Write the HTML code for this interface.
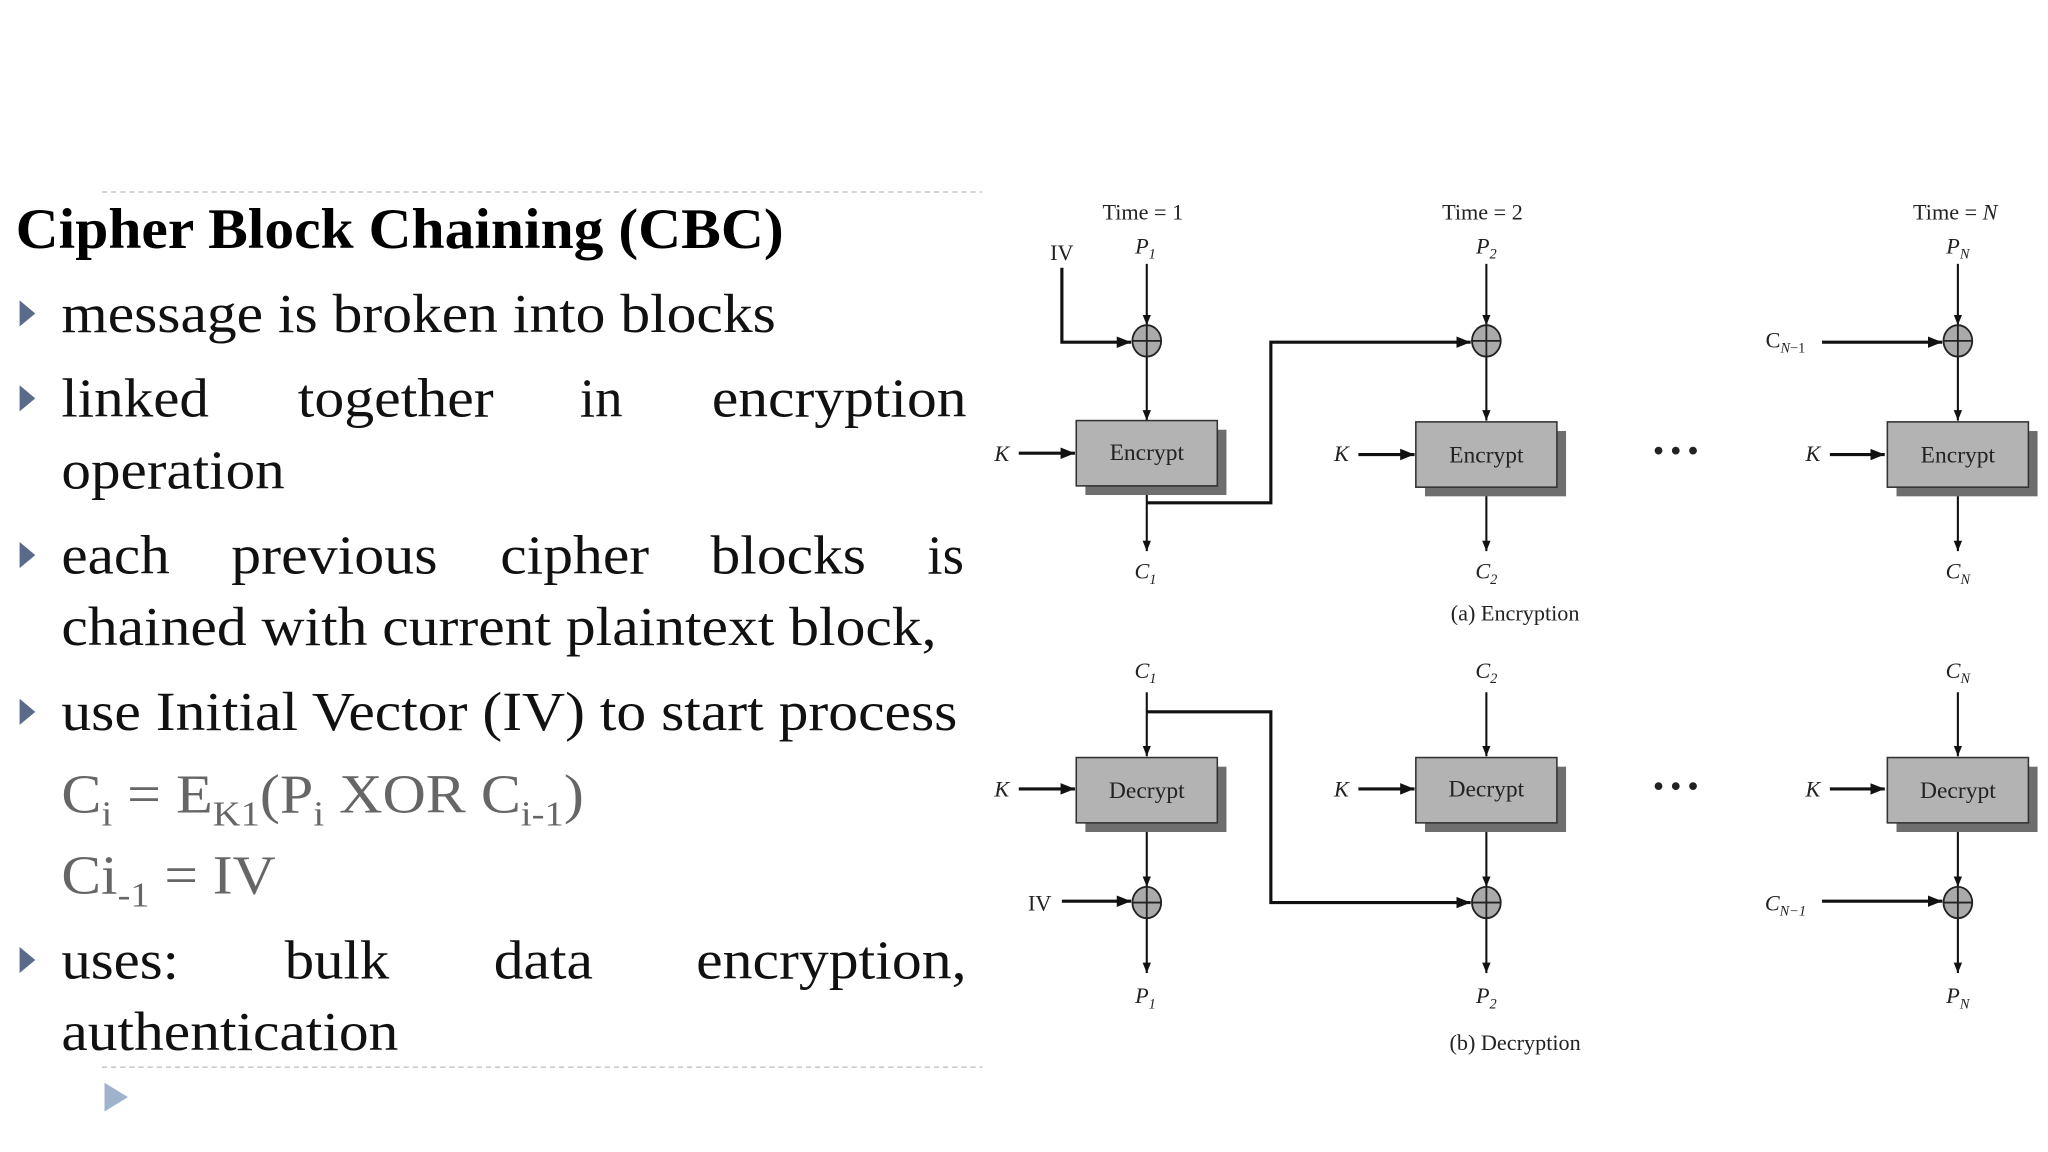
<!DOCTYPE html>
<html><head><meta charset="utf-8"><style>
html,body{margin:0;padding:0;background:#fff;width:2048px;height:1152px;overflow:hidden}
svg{display:block}
</style></head><body>
<svg width="2048" height="1152" viewBox="0 0 1568 882" xmlns="http://www.w3.org/2000/svg" font-family="Liberation Serif, serif">
<defs>
<marker id="a" viewBox="0 0 10 10" refX="10" refY="5" markerWidth="8" markerHeight="8" orient="auto" markerUnits="userSpaceOnUse"><path d="M0,1 L10,5 L0,9 z" fill="#111"/></marker>
<marker id="b" viewBox="0 0 10 10" refX="10" refY="5" markerWidth="11" markerHeight="11" orient="auto" markerUnits="userSpaceOnUse"><path d="M0,1 L10,5 L0,9 z" fill="#111"/></marker>
</defs>
<line x1="78" y1="147" x2="752" y2="147" stroke="#bbb" stroke-dasharray="4,3"/>
<line x1="78" y1="817" x2="752" y2="817" stroke="#bbb" stroke-dasharray="4,3"/>
<path d="M80,829 L98,840 L80,851 z" fill="#9fb3cc"/>
<text x="12" y="190" font-size="44" font-weight="bold" textLength="588" lengthAdjust="spacingAndGlyphs">Cipher Block Chaining (CBC)</text>
<g fill="#5a6a8a">
<path d="M15,230 L27,240 L15,250 z"/><path d="M15,295 L27,305 L15,315 z"/><path d="M15,415 L27,425 L15,435 z"/><path d="M15,535 L27,545 L15,555 z"/><path d="M15,725 L27,735 L15,745 z"/>
</g>
<g font-size="42" fill="#111">
<text x="47" y="254" textLength="547" lengthAdjust="spacingAndGlyphs">message is broken into blocks</text>
<text x="47" y="319" textLength="113" lengthAdjust="spacingAndGlyphs">linked</text><text x="228" y="319" textLength="150" lengthAdjust="spacingAndGlyphs">together</text><text x="444" y="319">in</text><text x="545" y="319" textLength="195" lengthAdjust="spacingAndGlyphs">encryption</text>
<text x="47" y="374" textLength="171" lengthAdjust="spacingAndGlyphs">operation</text>
<text x="47" y="439" textLength="83" lengthAdjust="spacingAndGlyphs">each</text><text x="177" y="439" textLength="158" lengthAdjust="spacingAndGlyphs">previous</text><text x="383" y="439" textLength="114" lengthAdjust="spacingAndGlyphs">cipher</text><text x="544" y="439" textLength="119" lengthAdjust="spacingAndGlyphs">blocks</text><text x="710" y="439">is</text>
<text x="47" y="494" textLength="670" lengthAdjust="spacingAndGlyphs">chained with current plaintext block,</text>
<text x="47" y="559" textLength="686" lengthAdjust="spacingAndGlyphs">use Initial Vector (IV) to start process</text>
<text x="47" y="749" textLength="90" lengthAdjust="spacingAndGlyphs">uses:</text><text x="218" y="749" textLength="80" lengthAdjust="spacingAndGlyphs">bulk</text><text x="378" y="749" textLength="76" lengthAdjust="spacingAndGlyphs">data</text><text x="533" y="749" textLength="207" lengthAdjust="spacingAndGlyphs">encryption,</text>
<text x="47" y="804" textLength="258" lengthAdjust="spacingAndGlyphs">authentication</text>
</g>
<g font-size="42" fill="#666">
<text x="47" y="622" textLength="400" lengthAdjust="spacingAndGlyphs">C<tspan font-size="27" dy="10">i</tspan><tspan dy="-10"> = E</tspan><tspan font-size="27" dy="10">K1</tspan><tspan dy="-10">(P</tspan><tspan font-size="27" dy="10">i</tspan><tspan dy="-10"> XOR C</tspan><tspan font-size="27" dy="10">i-1</tspan><tspan dy="-10">)</tspan></text>
<text x="47" y="684" textLength="164" lengthAdjust="spacingAndGlyphs">Ci<tspan font-size="27" dy="10">-1</tspan><tspan dy="-10"> = IV</tspan></text>
</g>
<g font-size="17" fill="#222" text-anchor="middle">
<text x="875" y="168">Time = 1</text><text x="1135" y="168">Time = 2</text><text x="1497" y="168">Time = <tspan font-style="italic">N</tspan></text>
<g font-style="italic">
<text x="877" y="194">P<tspan font-size="11" dy="4">1</tspan></text>
<text x="1138" y="194">P<tspan font-size="11" dy="4">2</tspan></text>
<text x="1499" y="194">P<tspan font-size="11" dy="4">N</tspan></text>
<text x="877" y="443">C<tspan font-size="11" dy="4">1</tspan></text>
<text x="1138" y="443">C<tspan font-size="11" dy="4">2</tspan></text>
<text x="1499" y="443">C<tspan font-size="11" dy="4">N</tspan></text>
<text x="877" y="519">C<tspan font-size="11" dy="4">1</tspan></text>
<text x="1138" y="519">C<tspan font-size="11" dy="4">2</tspan></text>
<text x="1499" y="519">C<tspan font-size="11" dy="4">N</tspan></text>
<text x="877" y="768">P<tspan font-size="11" dy="4">1</tspan></text>
<text x="1138" y="768">P<tspan font-size="11" dy="4">2</tspan></text>
<text x="1499" y="768">P<tspan font-size="11" dy="4">N</tspan></text>
<text x="767" y="353">K</text><text x="1027" y="353">K</text><text x="1388" y="353">K</text>
<text x="767" y="610">K</text><text x="1027" y="610">K</text><text x="1388" y="610">K</text>
</g>
<text x="813" y="199">IV</text><text x="796" y="697">IV</text>
<text x="1367" y="266">C<tspan font-size="11" dy="4" font-style="italic">N</tspan><tspan font-size="11">−1</tspan></text>
<text x="1367" y="697" font-style="italic">C<tspan font-size="11" dy="4">N</tspan><tspan font-size="11">−1</tspan></text>
<text x="1160" y="475">(a) Encryption</text><text x="1160" y="804">(b) Decryption</text>
<text x="1283" y="352" font-size="22" font-weight="bold">• • •</text>
<text x="1283" y="609" font-size="22" font-weight="bold">• • •</text>
</g>
<g stroke="#111" stroke-width="1.6" fill="none">
<line x1="878" y1="202" x2="878" y2="249" marker-end="url(#a)"/>
<line x1="1138" y1="202" x2="1138" y2="249" marker-end="url(#a)"/>
<line x1="1499" y1="202" x2="1499" y2="249" marker-end="url(#a)"/>
<polyline points="813,205 813,262 866,262" stroke-width="2.4" marker-end="url(#b)"/>
<polyline points="878,385 973,385 973,262 1126,262" stroke-width="2.4" marker-end="url(#b)"/>
<line x1="1395" y1="262" x2="1487" y2="262" stroke-width="2.4" marker-end="url(#b)"/>
<line x1="878" y1="273" x2="878" y2="322" marker-end="url(#a)"/>
<line x1="1138" y1="273" x2="1138" y2="322" marker-end="url(#a)"/>
<line x1="1499" y1="273" x2="1499" y2="322" marker-end="url(#a)"/>
<line x1="878" y1="372" x2="878" y2="422" marker-end="url(#a)"/>
<line x1="1138" y1="373" x2="1138" y2="422" marker-end="url(#a)"/>
<line x1="1499" y1="373" x2="1499" y2="422" marker-end="url(#a)"/>
<line x1="780" y1="347" x2="823" y2="347" stroke-width="2.4" marker-end="url(#b)"/>
<line x1="1040" y1="348" x2="1083" y2="348" stroke-width="2.4" marker-end="url(#b)"/>
<line x1="1401" y1="348" x2="1443" y2="348" stroke-width="2.4" marker-end="url(#b)"/>
<line x1="878" y1="530" x2="878" y2="579" marker-end="url(#a)"/>
<polyline points="878,545 973,545 973,691 1126,691" stroke-width="2.4" marker-end="url(#b)"/>
<line x1="1138" y1="530" x2="1138" y2="579" marker-end="url(#a)"/>
<line x1="1499" y1="530" x2="1499" y2="579" marker-end="url(#a)"/>
<line x1="878" y1="630" x2="878" y2="679" marker-end="url(#a)"/>
<line x1="1138" y1="630" x2="1138" y2="679" marker-end="url(#a)"/>
<line x1="1499" y1="630" x2="1499" y2="679" marker-end="url(#a)"/>
<line x1="878" y1="703" x2="878" y2="745" marker-end="url(#a)"/>
<line x1="1138" y1="703" x2="1138" y2="745" marker-end="url(#a)"/>
<line x1="1499" y1="703" x2="1499" y2="745" marker-end="url(#a)"/>
<line x1="813" y1="690" x2="866" y2="690" stroke-width="2.4" marker-end="url(#b)"/>
<line x1="1395" y1="690" x2="1487" y2="690" stroke-width="2.4" marker-end="url(#b)"/>
<line x1="780" y1="604" x2="823" y2="604" stroke-width="2.4" marker-end="url(#b)"/>
<line x1="1040" y1="604" x2="1083" y2="604" stroke-width="2.4" marker-end="url(#b)"/>
<line x1="1401" y1="604" x2="1443" y2="604" stroke-width="2.4" marker-end="url(#b)"/>
</g>
<g stroke="#222" stroke-width="1.4" fill="#aaa">
<g><ellipse cx="878" cy="261" rx="11" ry="12"/><path d="M867,261 H889 M878,249 V273" fill="none"/></g>
<g><ellipse cx="1138" cy="261" rx="11" ry="12"/><path d="M1127,261 H1149 M1138,249 V273" fill="none"/></g>
<g><ellipse cx="1499" cy="261" rx="11" ry="12"/><path d="M1488,261 H1510 M1499,249 V273" fill="none"/></g>
<g><ellipse cx="878" cy="691" rx="11" ry="12"/><path d="M867,691 H889 M878,679 V703" fill="none"/></g>
<g><ellipse cx="1138" cy="691" rx="11" ry="12"/><path d="M1127,691 H1149 M1138,679 V703" fill="none"/></g>
<g><ellipse cx="1499" cy="691" rx="11" ry="12"/><path d="M1488,691 H1510 M1499,679 V703" fill="none"/></g>
</g>
<g>
<rect x="831" y="329" width="108" height="50" fill="#6e6e6e"/><rect x="824" y="322" width="108" height="50" fill="#b3b3b3" stroke="#333" stroke-width="1.2"/>
<rect x="1091" y="330" width="108" height="50" fill="#6e6e6e"/><rect x="1084" y="323" width="108" height="50" fill="#b3b3b3" stroke="#333" stroke-width="1.2"/>
<rect x="1452" y="330" width="108" height="50" fill="#6e6e6e"/><rect x="1445" y="323" width="108" height="50" fill="#b3b3b3" stroke="#333" stroke-width="1.2"/>
<rect x="831" y="587" width="108" height="50" fill="#6e6e6e"/><rect x="824" y="580" width="108" height="50" fill="#b3b3b3" stroke="#333" stroke-width="1.2"/>
<rect x="1091" y="587" width="108" height="50" fill="#6e6e6e"/><rect x="1084" y="580" width="108" height="50" fill="#b3b3b3" stroke="#333" stroke-width="1.2"/>
<rect x="1452" y="587" width="108" height="50" fill="#6e6e6e"/><rect x="1445" y="580" width="108" height="50" fill="#b3b3b3" stroke="#333" stroke-width="1.2"/>
</g>
<g font-size="18" fill="#222" text-anchor="middle">
<text x="878" y="352">Encrypt</text><text x="1138" y="354">Encrypt</text><text x="1499" y="354">Encrypt</text>
<text x="878" y="611">Decrypt</text><text x="1138" y="610">Decrypt</text><text x="1499" y="611">Decrypt</text>
</g>
</svg>
</body></html>
